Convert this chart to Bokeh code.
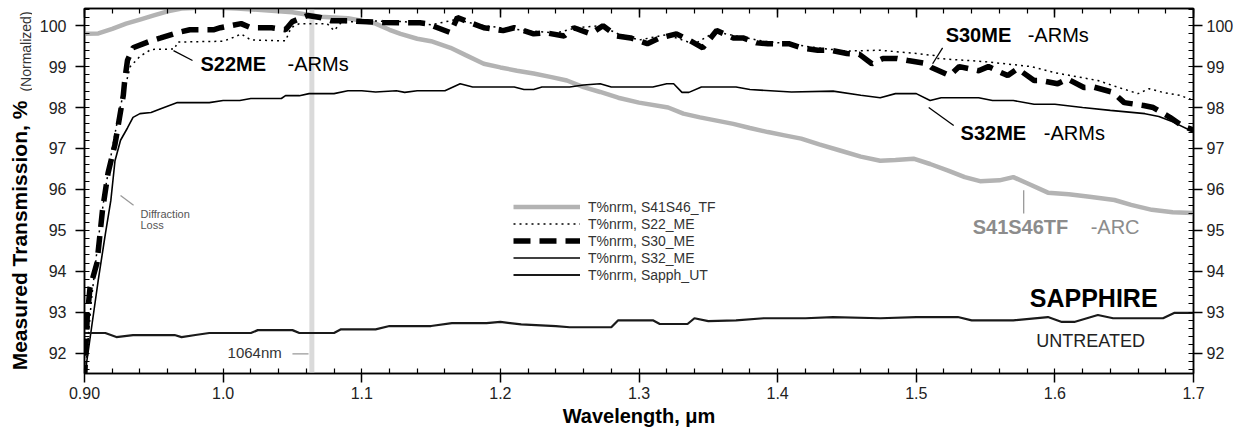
import math
from bokeh.plotting import figure
from bokeh.layouts import row
from bokeh.models import LinearAxis, FixedTicker, Span, Label, Legend, LegendItem
from bokeh.embed import file_html
from bokeh.resources import INLINE

FONT = "Liberation Sans"

# ---------------- data (wavelength um, normalized transmission %) ----------------
S41S46_TF = [(0.900, 99.80), (0.910, 99.81), (0.920, 99.92), (0.930, 100.05), (0.940, 100.15),
             (0.950, 100.25), (0.960, 100.35), (0.970, 100.42), (0.990, 100.45), (1.010, 100.42),
             (1.030, 100.38), (1.050, 100.33), (1.070, 100.22), (1.090, 100.18), (1.100, 100.12),
             (1.110, 100.05), (1.120, 99.90), (1.128, 99.80), (1.140, 99.68), (1.150, 99.62),
             (1.164, 99.46), (1.175, 99.28), (1.188, 99.07), (1.200, 98.98), (1.212, 98.90),
             (1.224, 98.83), (1.236, 98.75), (1.248, 98.66), (1.260, 98.50), (1.272, 98.38),
             (1.285, 98.24), (1.300, 98.12), (1.321, 98.00), (1.332, 97.85), (1.344, 97.76),
             (1.356, 97.68), (1.368, 97.60), (1.380, 97.50), (1.393, 97.40), (1.405, 97.32),
             (1.417, 97.24), (1.430, 97.10), (1.445, 96.95), (1.460, 96.80), (1.474, 96.70),
             (1.485, 96.72), (1.498, 96.75), (1.510, 96.62), (1.523, 96.46), (1.535, 96.30),
             (1.546, 96.20), (1.560, 96.22), (1.570, 96.30), (1.580, 96.15), (1.595, 95.92),
             (1.610, 95.88), (1.625, 95.82), (1.643, 95.74), (1.655, 95.62), (1.670, 95.50),
             (1.685, 95.44), (1.700, 95.42)]

S22_ME = [(0.900, 91.30), (0.905, 93.30), (0.910, 94.80), (0.915, 96.00), (0.920, 97.00),
          (0.925, 97.90), (0.930, 98.60), (0.933, 99.00), (0.940, 99.25), (0.948, 99.42),
          (0.965, 99.43), (0.967, 99.60), (1.000, 99.62), (1.008, 99.72), (1.013, 99.80),
          (1.020, 99.65), (1.045, 99.63), (1.049, 99.95), (1.055, 100.05), (1.075, 100.05),
          (1.080, 99.88), (1.085, 100.07), (1.100, 100.12), (1.130, 100.10), (1.150, 100.02),
          (1.168, 100.15), (1.185, 100.02), (1.200, 99.95), (1.220, 99.88), (1.240, 99.82),
          (1.255, 99.95), (1.272, 100.00), (1.285, 99.80), (1.300, 99.65), (1.320, 99.78),
          (1.340, 99.55), (1.355, 99.85), (1.370, 99.75), (1.390, 99.62), (1.410, 99.55),
          (1.430, 99.45), (1.450, 99.38), (1.474, 99.40), (1.500, 99.32), (1.513, 99.27),
          (1.515, 99.20), (1.550, 99.12), (1.583, 99.00), (1.600, 98.85), (1.631, 98.66),
          (1.645, 98.50), (1.660, 98.34), (1.668, 98.46), (1.679, 98.36), (1.690, 98.30),
          (1.700, 98.17)]

S30_ME = [(0.900, 91.30), (0.902, 92.90), (0.904, 93.60), (0.909, 94.20), (0.913, 95.50),
          (0.917, 96.40), (0.922, 97.10), (0.924, 97.50), (0.928, 98.30), (0.929, 98.66),
          (0.931, 99.15), (0.935, 99.46), (0.948, 99.63), (0.955, 99.70), (0.967, 99.83),
          (0.976, 99.90), (0.993, 99.90), (0.998, 99.95), (1.013, 100.05), (1.020, 99.95),
          (1.035, 99.95), (1.045, 99.90), (1.050, 100.10), (1.061, 100.25), (1.070, 100.20),
          (1.078, 100.12), (1.090, 100.12), (1.100, 100.10), (1.115, 100.08), (1.128, 100.07),
          (1.142, 100.07), (1.147, 100.05), (1.164, 99.83), (1.169, 100.20), (1.180, 100.05),
          (1.188, 99.95), (1.202, 99.88), (1.210, 99.95), (1.224, 99.80), (1.232, 99.83),
          (1.246, 99.75), (1.253, 99.95), (1.265, 99.80), (1.274, 100.00), (1.284, 99.75),
          (1.294, 99.70), (1.306, 99.56), (1.315, 99.70), (1.327, 99.80), (1.337, 99.63),
          (1.346, 99.46), (1.356, 99.88), (1.368, 99.70), (1.375, 99.70), (1.385, 99.58),
          (1.393, 99.56), (1.408, 99.56), (1.417, 99.46), (1.429, 99.40), (1.438, 99.40),
          (1.450, 99.32), (1.459, 99.30), (1.468, 99.07), (1.476, 99.20), (1.486, 99.20),
          (1.494, 99.15), (1.508, 99.07), (1.511, 98.98), (1.524, 98.78), (1.531, 99.00),
          (1.545, 98.90), (1.552, 99.00), (1.566, 98.78), (1.573, 98.95), (1.585, 98.66),
          (1.590, 98.66), (1.602, 98.58), (1.609, 98.70), (1.621, 98.49), (1.628, 98.50),
          (1.642, 98.37), (1.650, 98.12), (1.664, 98.05), (1.671, 98.00), (1.683, 97.76),
          (1.692, 97.55), (1.700, 97.45)]

S32_ME = [(0.900, 91.40), (0.905, 92.60), (0.910, 93.80), (0.915, 94.90), (0.919, 95.73),
          (0.922, 96.70), (0.926, 97.20), (0.931, 97.50), (0.935, 97.76), (0.940, 97.85),
          (0.948, 97.88), (0.955, 97.97), (0.967, 98.12), (0.990, 98.12), (1.000, 98.17),
          (1.012, 98.17), (1.020, 98.22), (1.042, 98.22), (1.045, 98.29), (1.055, 98.29),
          (1.062, 98.34), (1.080, 98.34), (1.090, 98.41), (1.100, 98.41), (1.110, 98.38),
          (1.125, 98.41), (1.131, 98.37), (1.140, 98.41), (1.160, 98.41), (1.171, 98.58),
          (1.180, 98.50), (1.210, 98.50), (1.217, 98.44), (1.224, 98.44), (1.230, 98.50),
          (1.250, 98.50), (1.260, 98.55), (1.272, 98.58), (1.280, 98.50), (1.310, 98.50),
          (1.320, 98.58), (1.325, 98.58), (1.331, 98.37), (1.336, 98.37), (1.345, 98.50),
          (1.370, 98.50), (1.380, 98.44), (1.410, 98.38), (1.440, 98.40), (1.460, 98.30),
          (1.474, 98.24), (1.485, 98.34), (1.500, 98.34), (1.510, 98.17), (1.518, 98.24),
          (1.545, 98.24), (1.555, 98.17), (1.570, 98.17), (1.585, 98.08), (1.600, 98.08),
          (1.620, 98.00), (1.640, 97.93), (1.665, 97.85), (1.675, 97.78), (1.685, 97.65),
          (1.700, 97.40)]

SAPPH_UT = [(0.900, 92.49), (0.915, 92.49), (0.923, 92.39), (0.935, 92.44), (0.965, 92.44),
            (0.970, 92.39), (0.980, 92.44), (0.990, 92.49), (1.020, 92.49), (1.025, 92.56),
            (1.050, 92.56), (1.055, 92.49), (1.080, 92.49), (1.085, 92.58), (1.110, 92.58),
            (1.120, 92.66), (1.150, 92.66), (1.165, 92.73), (1.190, 92.73), (1.200, 92.76),
            (1.215, 92.70), (1.240, 92.66), (1.250, 92.63), (1.280, 92.63), (1.285, 92.80),
            (1.310, 92.80), (1.315, 92.71), (1.335, 92.71), (1.340, 92.85), (1.350, 92.78),
            (1.370, 92.80), (1.390, 92.85), (1.420, 92.85), (1.440, 92.88), (1.474, 92.85),
            (1.500, 92.88), (1.530, 92.88), (1.540, 92.80), (1.570, 92.80), (1.595, 92.88),
            (1.605, 92.76), (1.614, 92.76), (1.631, 92.93), (1.642, 92.85), (1.678, 92.85),
            (1.686, 92.98), (1.700, 92.98)]

LASER_UM = 1.064

X_TICKS = [0.9, 1.0, 1.1, 1.2, 1.3, 1.4, 1.5, 1.6, 1.7]
X_TICK_LABELS = ["0.90", "1.0", "1.1", "1.2", "1.3", "1.4", "1.5", "1.6", "1.7"]
Y_TICKS = [92, 93, 94, 95, 96, 97, 98, 99, 100]
Y_TICK_LABELS = ["92", "93", "94", "95", "96", "97", "98", "99", "100"]

X_MINOR = [round(0.9 + 0.02 * i, 2) for i in range(41)]
Y_MINOR = [round(91.6 + 0.2 * i, 1) for i in range(45)]

# ---------------- main figure ----------------
p = figure(width=1216, height=430, x_range=(0.9, 1.7), y_range=(91.5, 100.42),
           output_backend="svg", toolbar_location=None,
           min_border_left=52, min_border_right=55, min_border_top=8, min_border_bottom=57)
p.xgrid.visible = False
p.ygrid.visible = False
p.outline_line_color = "black"
p.outline_line_width = 1.5
p.background_fill_color = "white"
p.border_fill_color = "white"


def style_axis(ax, ticks, minor, labels, label_out=True, standoff=5):
    ax.ticker = FixedTicker(ticks=ticks, minor_ticks=minor)
    ax.axis_line_color = "black"
    ax.axis_line_width = 1.5
    ax.major_tick_line_width = 1.5
    ax.minor_tick_line_width = 1.2
    ax.minor_tick_in = 5
    ax.minor_tick_out = 0
    if label_out:
        ax.major_tick_out = 9
        ax.major_tick_in = 0
        ax.major_label_overrides = {t: l for t, l in zip(ticks, labels)}
        ax.major_label_text_font = FONT
        ax.major_label_text_font_size = "16px"
        ax.major_label_text_color = "#222222"
        ax.major_label_standoff = standoff
    else:
        ax.major_tick_out = 0
        ax.major_tick_in = 9
        ax.major_label_text_color = None
        ax.major_label_text_font_size = "1px"
        ax.major_label_standoff = 0


style_axis(p.xaxis[0], X_TICKS, X_MINOR, X_TICK_LABELS, standoff=4)
p.xaxis[0].axis_label = "Wavelength, \u03bcm"
p.xaxis[0].axis_label_text_font = FONT
p.xaxis[0].axis_label_text_font_size = "20px"
p.xaxis[0].axis_label_text_font_style = "bold"
p.xaxis[0].axis_label_text_color = "black"
p.xaxis[0].axis_label_standoff = 3
style_axis(p.yaxis[0], Y_TICKS, Y_MINOR, Y_TICK_LABELS, standoff=9)
top = LinearAxis()
style_axis(top, X_TICKS, X_MINOR, X_TICK_LABELS, label_out=False)
p.add_layout(top, "above")
right = LinearAxis()
style_axis(right, Y_TICKS, Y_MINOR, Y_TICK_LABELS, standoff=4)
p.add_layout(right, "right")

# 1064 nm marker
p.add_layout(Span(location=LASER_UM, dimension="height", line_color="#dadada",
                  line_width=5, level="underlay"))


def xy(series):
    xs, ys = zip(*series)
    return list(xs), list(ys)


x, y = xy(S41S46_TF)
r_tf = p.line(x, y, line_color="#b3b3b3", line_width=4.5)
x, y = xy(S32_ME)
r_32 = p.line(x, y, line_color="black", line_width=1.6)
x, y = xy(SAPPH_UT)
r_ut = p.line(x, y, line_color="#1a1a1a", line_width=2.2)
x, y = xy(S30_ME)
r_30 = p.line(x, y, line_color="black", line_width=5.5, line_dash="17 9")
x, y = xy(S22_ME)
r_22 = p.line(x, y, line_color="black", line_width=1.5, line_dash="2 4")

legend = Legend(items=[
    LegendItem(label="T%nrm, S41S46_TF", renderers=[r_tf]),
    LegendItem(label="T%nrm, S22_ME", renderers=[r_22]),
    LegendItem(label="T%nrm, S30_ME", renderers=[r_30]),
    LegendItem(label="T%nrm, S32_ME", renderers=[r_32]),
    LegendItem(label="T%nrm, Sapph_UT", renderers=[r_ut]),
], location=(429, 90))
legend.padding = 0
legend.margin = 0
legend.spacing = 0
legend.border_line_color = None
legend.background_fill_alpha = 0
legend.glyph_width = 67
legend.glyph_height = 17
legend.label_height = 17
legend.label_standoff = 8
legend.label_text_font = FONT
legend.label_text_font_size = "14px"
legend.label_text_color = "#333333"
p.add_layout(legend)


def lab(fig, x, y, text, size, bold=False, color="black", align="left", angle=0.0):
    fig.add_layout(Label(x=x, y=y, text=text, text_font=FONT, text_font_size=size,
                         text_font_style="bold" if bold else "normal",
                         text_color=color, text_align=align, text_baseline="middle",
                         angle=angle))


# curve annotations
lab(p, 0.9837, 99.06, "S22ME", "20px", bold=True)
lab(p, 1.0465, 99.06, "-ARMs", "20px")
lab(p, 1.5212, 99.78, "S30ME", "20px", bold=True)
lab(p, 1.5804, 99.78, "-ARMs", "20px")
lab(p, 1.5320, 97.37, "S32ME", "20px", bold=True)
lab(p, 1.5920, 97.37, "-ARMs", "20px")
lab(p, 1.5407, 95.07, "S41S46TF", "20px", bold=True, color="#8c8c8c")
lab(p, 1.6258, 95.07, "-ARC", "20px", color="#8c8c8c")
lab(p, 1.6280, 93.34, "SAPPHIRE", "25px", bold=True, align="center")
lab(p, 1.6258, 92.29, "UNTREATED", "18px", color="#222222", align="center")
lab(p, 0.9404, 95.39, "Diffraction", "11px", color="#555555")
lab(p, 0.9404, 95.12, "Loss", "11px", color="#555555")
lab(p, 1.0032, 92.02, "1064nm", "15px", color="#333333")

# leader lines
p.segment(x0=[0.9642, 1.5190, 1.5090], y0=[99.39, 99.46, 98.00],
          x1=[0.9779, 1.5118, 1.5270], y1=[99.15, 99.07, 97.56],
          line_color="black", line_width=1.3)
p.segment(x0=[1.5775, 0.9260, 1.0500], y0=[95.98, 95.85, 91.98],
          x1=[1.5775, 0.9354, 1.0616], y1=[95.41, 95.61, 91.98],
          line_color="#999999", line_width=1.3)

# ---------------- left strip holding the y-axis title ----------------
# (its frame is aligned with the main frame by the row layout: 365 px tall)
t = figure(width=32, height=430, x_range=(0, 32), y_range=(0, 365),
           output_backend="svg", toolbar_location=None, min_border=0,
           x_axis_type=None, y_axis_type=None)
t.outline_line_color = None
t.background_fill_color = "white"
t.border_fill_color = "white"
lab(t, 19, 138, "Measured Transmission, %", "21px", bold=True, align="center",
    angle=math.pi / 2)
lab(t, 25, 322, "(Normalized)", "14px", color="#333333", align="center",
    angle=math.pi / 2)

layout = row(t, p)
open("out.html", "w").write(file_html(layout, INLINE))
